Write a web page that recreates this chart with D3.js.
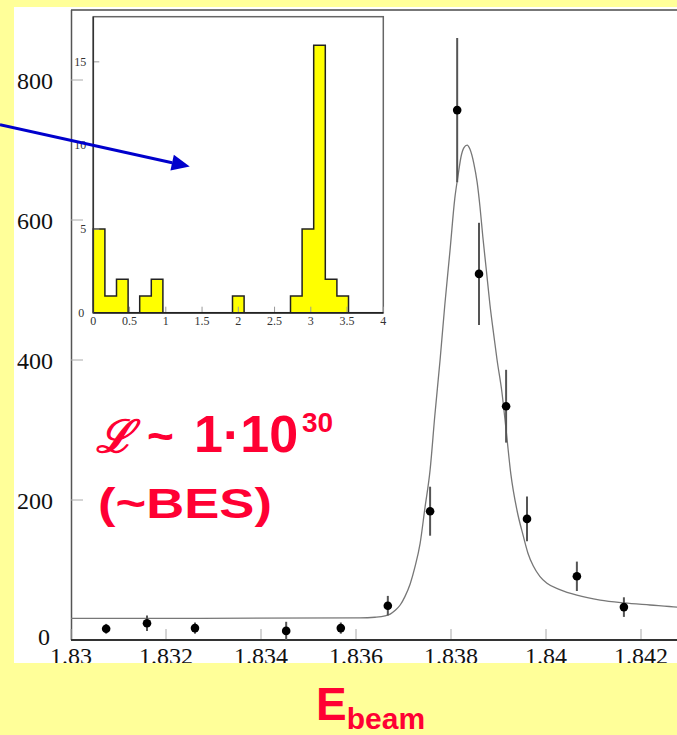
<!DOCTYPE html>
<html>
<head>
<meta charset="utf-8">
<script src="https://cdn.jsdelivr.net/npm/d3@7"></script>
<style>
  body { margin: 0; background: #ffff99; }
  svg { display: block; }
</style>
</head>
<body>
<div id="chart"></div>
<script>
// measured points (beam energy, events, error)
var energy = [1.83074, 1.8316, 1.83261, 1.83453, 1.83568, 1.83667, 1.83756, 1.83813, 1.83859, 1.83916, 1.8396, 1.84065, 1.84164];
var counts = [16, 24, 17, 13, 17, 49, 184, 757, 523, 334, 173, 91, 47];
var errors = [7, 11, 8, 13, 8, 14, 35, 103, 73, 52, 32, 21, 14];

// fitted curve
var fitE = [1.8300, 1.83272, 1.83608, 1.83640, 1.83661, 1.83672, 1.83682, 1.83693, 1.83703, 1.83714, 1.83724,
            1.83735, 1.83745, 1.83756, 1.83766, 1.83777, 1.83787, 1.83798, 1.83808, 1.83815, 1.83821,
            1.83827, 1.83834, 1.83840, 1.83848, 1.83855, 1.83861, 1.83867, 1.83874, 1.83882, 1.83891,
            1.83897, 1.83907, 1.83916, 1.83926, 1.83939, 1.83952, 1.83962, 1.83973, 1.83987, 1.84002,
            1.84029, 1.84065, 1.84114, 1.84164, 1.84219, 1.84276, 1.84324];
var fitN = [31, 31, 31.5, 32.5, 34.5, 37, 42, 50, 62, 80, 104,
            138, 188, 243, 321, 400, 479, 557, 631, 664, 690,
            703, 707, 701, 681, 654, 619, 576, 531, 479, 431,
            400, 355, 300, 237, 185, 149, 124, 106, 91, 81,
            72, 64, 57, 53, 50, 47, 46];

// inset histogram (25 bins from 0 to 4)
var histCounts = [5, 1, 2, 0, 1, 2, 0, 0, 0, 0, 0, 0, 1, 0, 0, 0, 0, 1, 5, 16, 2, 1, 0, 0, 0];
var histLo = 0, histHi = 4;

var xTicks = [1.83, 1.832, 1.834, 1.836, 1.838, 1.84, 1.842];
var yTicks = [0, 200, 400, 600, 800];
var insetXTicks = [0, 0.5, 1, 1.5, 2, 2.5, 3, 3.5, 4];
var insetYTicks = [0, 5, 10, 15];

var width = 677, height = 735;
var red = "#ff0033";

var svg = d3.select("#chart").append("svg")
    .attr("width", width)
    .attr("height", height);

svg.append("rect").attr("width", width).attr("height", height).attr("fill", "#ffff99");

var defs = svg.append("defs");
defs.append("clipPath").attr("id", "panel")
  .append("rect").attr("x", 14).attr("y", 7).attr("width", width - 14).attr("height", 656);
defs.append("clipPath").attr("id", "plotArea")
  .append("rect").attr("x", 71).attr("y", 10).attr("width", width - 71).attr("height", 630);

// white picture panel
svg.append("rect")
    .attr("x", 14).attr("y", 7)
    .attr("width", width - 14).attr("height", 656)
    .attr("fill", "#ffffff");

var panel = svg.append("g").attr("clip-path", "url(#panel)");

var x = d3.scaleLinear().domain([1.83, 1.844]).range([71, 736]);
var y = d3.scaleLinear().domain([0, 900]).range([640, 10]);

// frame
panel.append("line")
    .attr("x1", 71).attr("x2", width).attr("y1", 10).attr("y2", 10)
    .attr("stroke", "#777").attr("stroke-width", 2);
panel.append("line")
    .attr("x1", 71.5).attr("x2", 71.5).attr("y1", 10).attr("y2", 640)
    .attr("stroke", "#555").attr("stroke-width", 1.5);

// ticks (inside)
panel.selectAll("line.xtick").data(xTicks).enter().append("line")
    .attr("class", "xtick")
    .attr("x1", function(d) { return x(d); }).attr("x2", function(d) { return x(d); })
    .attr("y1", 640).attr("y2", 629)
    .attr("stroke", "#aaa").attr("stroke-width", 1);
panel.selectAll("line.ytick").data(yTicks).enter().append("line")
    .attr("class", "ytick")
    .attr("x1", 71).attr("x2", 83)
    .attr("y1", function(d) { return y(d); }).attr("y2", function(d) { return y(d); })
    .attr("stroke", "#aaa").attr("stroke-width", 1);

panel.append("line")
    .attr("x1", 71).attr("x2", width).attr("y1", 640).attr("y2", 640)
    .attr("stroke", "#333").attr("stroke-width", 2);

// tick labels (bottom edge of the picture cuts them)
panel.selectAll("text.xlab").data(xTicks).enter().append("text")
    .attr("class", "xlab")
    .attr("x", function(d) { return x(d); })
    .attr("y", 664)
    .attr("text-anchor", "middle")
    .style("font-family", "'Liberation Serif', serif")
    .style("font-size", "24px")
    .attr("fill", "#111")
    .text(function(d) { return d3.format("")(d); });
panel.selectAll("text.ylab").data(yTicks).enter().append("text")
    .attr("class", "ylab")
    .attr("x", function(d) { return d === 0 ? 50 : 53; })
    .attr("y", function(d) { return d === 0 ? y(d) + 5 : y(d) + 8.5; })
    .attr("text-anchor", "end")
    .style("font-family", "'Liberation Serif', serif")
    .style("font-size", "24px")
    .attr("fill", "#111")
    .text(function(d) { return d; });

// fit curve
var fit = fitE.map(function(e, i) { return [e, fitN[i]]; });
panel.append("path")
    .datum(fit)
    .attr("clip-path", "url(#plotArea)")
    .attr("fill", "none")
    .attr("stroke", "#777")
    .attr("stroke-width", 1.3)
    .attr("d", d3.line()
        .x(function(d) { return x(d[0]); })
        .y(function(d) { return y(d[1]); })
        .curve(d3.curveMonotoneX));

// data points
var pts = energy.map(function(e, i) { return {e: e, n: counts[i], err: errors[i]}; });
panel.selectAll("line.err").data(pts).enter().append("line")
    .attr("class", "err")
    .attr("x1", function(d) { return x(d.e); }).attr("x2", function(d) { return x(d.e); })
    .attr("y1", function(d) { return y(d.n + d.err); })
    .attr("y2", function(d) { return y(d.n - d.err); })
    .attr("stroke", "#555").attr("stroke-width", 2);
panel.selectAll("circle.pt").data(pts).enter().append("circle")
    .attr("class", "pt")
    .attr("cx", function(d) { return x(d.e); })
    .attr("cy", function(d) { return y(d.n); })
    .attr("r", 4.3)
    .attr("fill", "#000");

// ---- inset histogram ----
var ix = d3.scaleLinear().domain([0, 4]).range([93.3, 383.3]);
var iy = d3.scaleLinear().domain([0, 17.7]).range([312.7, 16.7]);
var binW = (histHi - histLo) / histCounts.length;

var inset = panel.append("g");
inset.append("rect")
    .attr("x", ix(0)).attr("y", iy(17.7))
    .attr("width", ix(4) - ix(0)).attr("height", iy(0) - iy(17.7))
    .attr("fill", "#fff").attr("stroke", "#666").attr("stroke-width", 1.5);

var steps = [[histLo, 0]].concat(histCounts.map(function(c, i) { return [histLo + i * binW, c]; }), [[histHi, 0]]);
inset.append("path")
    .datum(steps)
    .attr("fill", "#ffff00")
    .attr("stroke", "#222")
    .attr("stroke-width", 1.5)
    .attr("d", d3.area()
        .x(function(d) { return ix(d[0]); })
        .y0(iy(0))
        .y1(function(d) { return iy(d[1]); })
        .curve(d3.curveStepAfter));

inset.selectAll("line.ixt").data(insetXTicks).enter().append("line")
    .attr("class", "ixt")
    .attr("x1", function(d) { return ix(d); }).attr("x2", function(d) { return ix(d); })
    .attr("y1", iy(0)).attr("y2", iy(0) - 6)
    .attr("stroke", "#999").attr("stroke-width", 1);
inset.selectAll("line.iyt").data(insetYTicks).enter().append("line")
    .attr("class", "iyt")
    .attr("x1", ix(0)).attr("x2", ix(0) + 6)
    .attr("y1", function(d) { return iy(d); }).attr("y2", function(d) { return iy(d); })
    .attr("stroke", "#999").attr("stroke-width", 1);
inset.append("line")
    .attr("x1", ix(0)).attr("x2", ix(4)).attr("y1", iy(0)).attr("y2", iy(0))
    .attr("stroke", "#222").attr("stroke-width", 1.5);
inset.append("line")
    .attr("x1", ix(0)).attr("x2", ix(0)).attr("y1", iy(0)).attr("y2", iy(17.7))
    .attr("stroke", "#333").attr("stroke-width", 1.5);

inset.selectAll("text.ixl").data(insetXTicks).enter().append("text")
    .attr("class", "ixl")
    .attr("x", function(d) { return ix(d); })
    .attr("y", iy(0) + 12)
    .attr("text-anchor", "middle")
    .style("font-family", "'Liberation Serif', serif")
    .style("font-size", "12px")
    .attr("fill", "#333")
    .text(function(d) { return d; });
inset.selectAll("text.iyl").data(insetYTicks).enter().append("text")
    .attr("class", "iyl")
    .attr("x", function(d) { return d === 0 ? ix(0) - 9 : ix(0) - 7; })
    .attr("y", function(d) { return iy(d) + 4; })
    .attr("text-anchor", "end")
    .style("font-family", "'Liberation Serif', serif")
    .style("font-size", "12px")
    .attr("fill", "#333")
    .text(function(d) { return d; });

// ---- annotations ----
// blue arrow pointing into the inset (inset units)
var arrowFrom = [-1.287, 11.24], arrowTo = [1.33, 8.74];
var ax0 = ix(arrowFrom[0]), ay0 = iy(arrowFrom[1]);
var ax1 = ix(arrowTo[0]), ay1 = iy(arrowTo[1]);
var ang = Math.atan2(ay1 - ay0, ax1 - ax0);
var headL = 18, headW = 8;
var bx = ax1 - headL * Math.cos(ang), by = ay1 - headL * Math.sin(ang);
svg.append("line")
    .attr("x1", ax0).attr("y1", ay0).attr("x2", bx).attr("y2", by)
    .attr("stroke", "#0000cc").attr("stroke-width", 3);
svg.append("path")
    .attr("d", "M" + ax1 + "," + ay1 +
               "L" + (bx + headW * Math.sin(ang)) + "," + (by - headW * Math.cos(ang)) +
               "L" + (bx - headW * Math.sin(ang)) + "," + (by + headW * Math.cos(ang)) + "Z")
    .attr("fill", "#0000cc");

// luminosity note
var lum = svg.append("text")
    .attr("y", 452)
    .attr("fill", red)
    .style("font-family", "'Liberation Sans', Arial, sans-serif")
    .style("font-weight", "bold");
lum.append("tspan").attr("x", 96)
    .style("font-family", "'DejaVu Serif', serif")
    .style("font-style", "italic").style("font-weight", "normal")
    .style("font-size", "45px")
    .attr("stroke", red).attr("stroke-width", 1.4)
    .text("ℒ");
lum.append("tspan").attr("x", 147).style("font-size", "46px").text("~");
lum.append("tspan").attr("x", 194).style("font-size", "52px").text("1·10");
lum.append("tspan").attr("x", 302).attr("dy", -20).style("font-size", "28px").text("30");

svg.append("text")
    .attr("x", 98).attr("y", 518)
    .attr("fill", red)
    .attr("textLength", 174)
    .attr("lengthAdjust", "spacingAndGlyphs")
    .style("font-family", "'Liberation Sans', Arial, sans-serif")
    .style("font-weight", "bold")
    .style("font-size", "43px")
    .text("(~BES)");

// glyph partly cut off at the left edge of the slide
svg.append("text")
    .attr("x", -10).attr("y", 240)
    .attr("fill", red)
    .style("font-family", "'Liberation Sans', Arial, sans-serif")
    .style("font-weight", "bold")
    .style("font-size", "30px")
    .text(")");

// axis title
var xt = svg.append("text")
    .attr("x", 316).attr("y", 720)
    .attr("fill", red)
    .style("font-family", "'Liberation Sans', Arial, sans-serif")
    .style("font-weight", "bold");
xt.append("tspan").style("font-size", "46px").text("E");
xt.append("tspan").attr("dy", 9).style("font-size", "30px").text("beam");
</script>
</body>
</html>
